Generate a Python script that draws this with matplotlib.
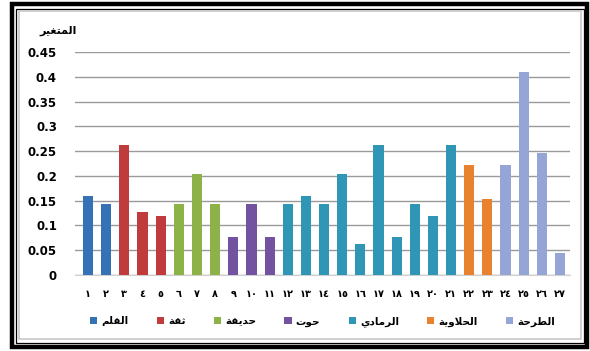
import matplotlib.pyplot as plt
from matplotlib.patches import Rectangle, Patch

# === DATA ===
values = [0.16, 0.143,
          0.262, 0.128, 0.12,
          0.143, 0.203, 0.143,
          0.077, 0.143, 0.077,
          0.143, 0.16, 0.143, 0.203, 0.062, 0.262, 0.077, 0.143, 0.12, 0.262,
          0.222, 0.153,
          0.222, 0.41, 0.246, 0.045]
groups = ['القلم', 'ثقة', 'حديقة', 'حوت', 'الرمادي', 'الحلاوية', 'الطرحة']
group_sizes = [2, 3, 3, 3, 10, 2, 4]
group_colors = ['#3572B5', '#C03B3B', '#8DB348', '#7352A0', '#2F97B5', '#E9822F', '#95A6D6']
y_title = 'المتغير'
y_ticks = [0, 0.05, 0.1, 0.15, 0.2, 0.25, 0.3, 0.35, 0.4, 0.45]

# --- minimal arabic shaping (matplotlib has no RTL / joining) ---
FORMS = {
    'ا': ('\uFE8D', '\uFE8E', None, None),
    'ب': ('\uFE8F', '\uFE90', '\uFE91', '\uFE92'),
    'ة': ('\uFE93', '\uFE94', None, None),
    'ت': ('\uFE95', '\uFE96', '\uFE97', '\uFE98'),
    'ث': ('\uFE99', '\uFE9A', '\uFE9B', '\uFE9C'),
    'ح': ('\uFEA1', '\uFEA2', '\uFEA3', '\uFEA4'),
    'د': ('\uFEA9', '\uFEAA', None, None),
    'ر': ('\uFEAD', '\uFEAE', None, None),
    'ط': ('\uFEC1', '\uFEC2', '\uFEC3', '\uFEC4'),
    'غ': ('\uFECD', '\uFECE', '\uFECF', '\uFED0'),
    'ق': ('\uFED5', '\uFED6', '\uFED7', '\uFED8'),
    'ل': ('\uFEDD', '\uFEDE', '\uFEDF', '\uFEE0'),
    'م': ('\uFEE1', '\uFEE2', '\uFEE3', '\uFEE4'),
    'ن': ('\uFEE5', '\uFEE6', '\uFEE7', '\uFEE8'),
    'و': ('\uFEED', '\uFEEE', None, None),
    'ي': ('\uFEF1', '\uFEF2', '\uFEF3', '\uFEF4'),
}


def shape(word):
    out = []
    i = 0
    n = len(word)
    while i < n:
        c = word[i]
        prev_joins = i > 0 and word[i - 1] in FORMS and FORMS[word[i - 1]][2] is not None
        if c == 'ل' and i + 1 < n and word[i + 1] == 'ا':
            out.append('\uFEFC' if prev_joins else '\uFEFB')
            i += 2
            continue
        if c not in FORMS:
            out.append(c)
            i += 1
            continue
        iso, fin, ini, med = FORMS[c]
        next_joins = i + 1 < n and word[i + 1] in FORMS and ini is not None
        if prev_joins and next_joins:
            out.append(med)
        elif prev_joins:
            out.append(fin)
        elif next_joins:
            out.append(ini)
        else:
            out.append(iso)
        i += 1
    return ''.join(reversed(out))


def arabic_num(k):
    return ''.join(chr(0x0660 + int(d)) for d in str(k))


plt.rcParams['font.family'] = ['DejaVu Sans']

colors = []
for col, size in zip(group_colors, group_sizes):
    colors += [col] * size
x = list(range(1, len(values) + 1))

fig = plt.figure(figsize=(5.9, 3.51), dpi=100)
W, H = 590, 351

# outer double black frame + gray chart border
fig.patches.append(Rectangle((12 / W, 4 / H), 575 / W, 343 / H, transform=fig.transFigure,
                             fill=False, edgecolor='black', linewidth=3.2))
fig.patches.append(Rectangle((15.5 / W, 8.5 / H), 568 / W, 334 / H, transform=fig.transFigure,
                             fill=False, edgecolor='black', linewidth=0.9))
fig.patches.append(Rectangle((18.5 / W, 12 / H), 562 / W, 328 / H, transform=fig.transFigure,
                             fill=False, edgecolor='#c8c8c8', linewidth=1.2))

ax = fig.add_axes([75 / W, 1 - 275 / H, 495 / W, 223 / H])
ax.set_axisbelow(True)
ax.bar(x, values, width=0.56, color=colors, edgecolor='none', zorder=3)

ax.set_ylim(0, 0.45)
ax.set_xlim(0.28, 27.55)
ax.set_yticks(y_ticks)
ax.set_yticklabels(['0' if t == 0 else ('%g' % t) for t in y_ticks], fontsize=8.5, fontweight='bold')
ax.set_xticks(x)
ax.set_xticklabels([arabic_num(k) for k in x], fontsize=7, fontweight='bold')
ax.tick_params(axis='both', length=0)
ax.tick_params(axis='y', pad=13)
ax.tick_params(axis='x', pad=10)
ax.grid(axis='y', color='#9a9a9a', linewidth=1.0)
for s in ['top', 'right', 'left']:
    ax.spines[s].set_visible(False)
ax.spines['bottom'].set_color('#d0d0d0')

fig.text(58 / W, 1 - 31 / H, shape(y_title), fontsize=8, fontweight='bold', ha='center', va='center')

handles = [Patch(facecolor=c, edgecolor='none') for c in group_colors]
ax.legend(handles, [shape(g) for g in groups], ncol=7, frameon=False,
          loc='center', bbox_to_anchor=(0.5, -0.21),
          handlelength=0.7, handleheight=0.7, handletextpad=0.4, columnspacing=2.7,
          prop={'weight': 'bold', 'size': 7.5})

fig.savefig('out.png', dpi=100)
